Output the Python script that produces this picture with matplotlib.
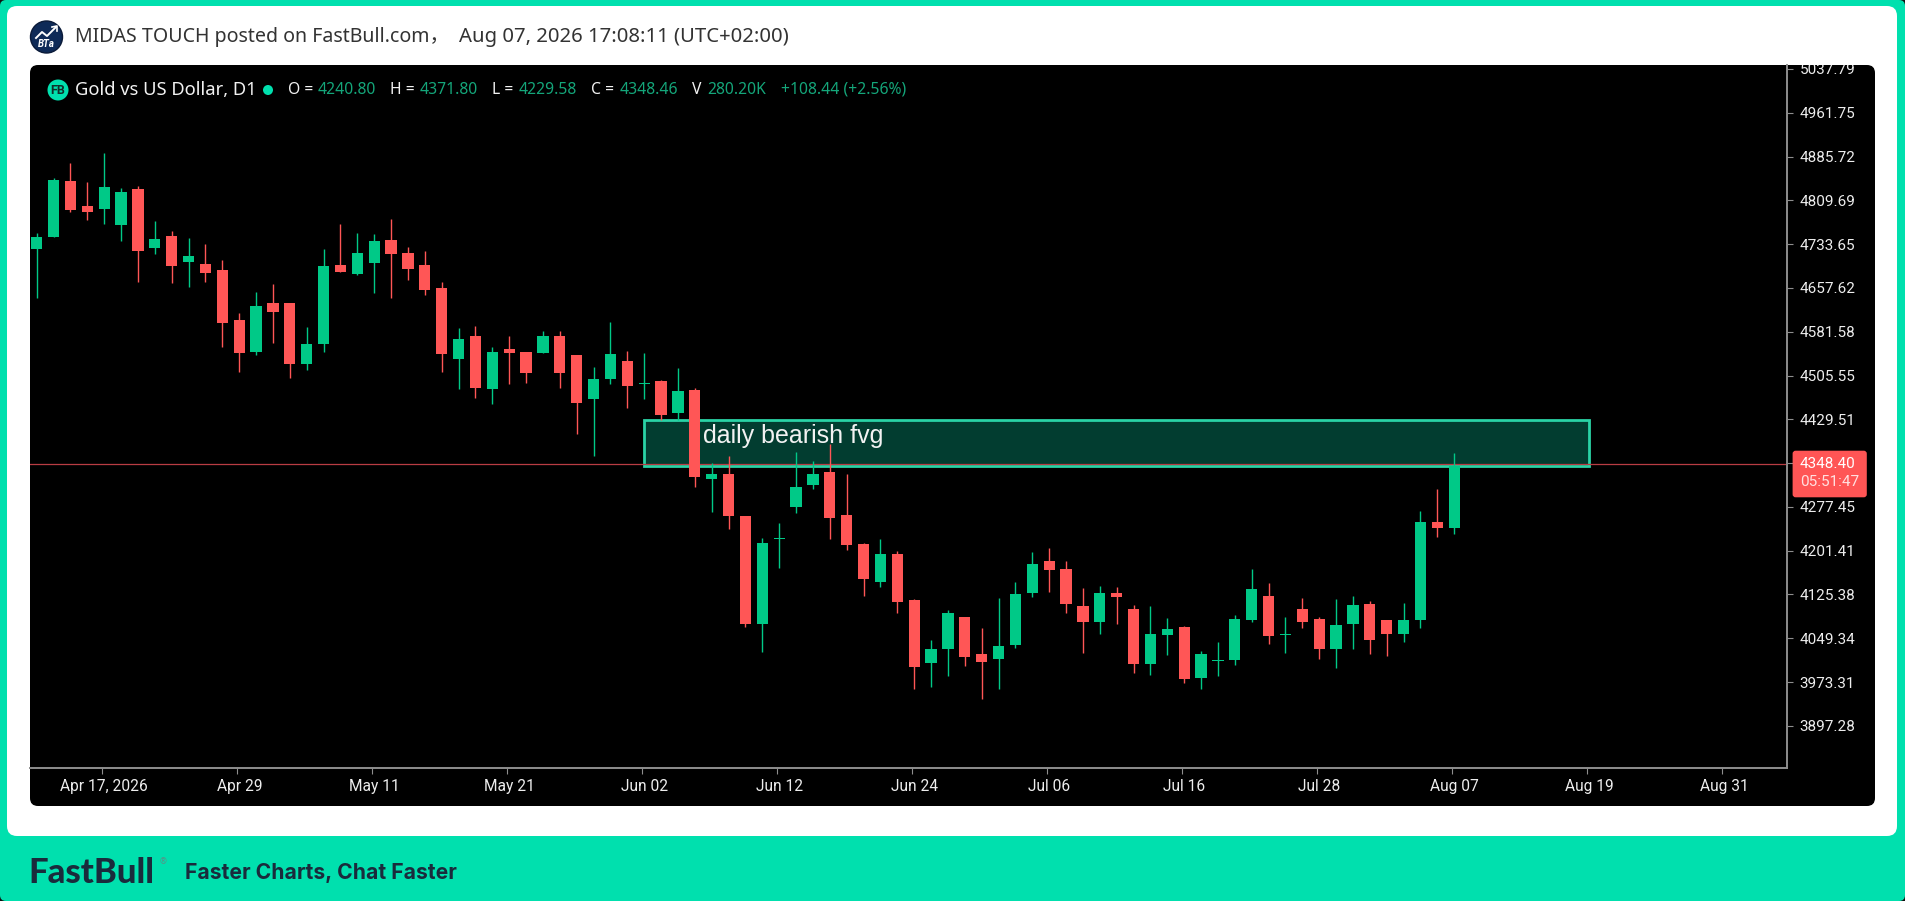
"""FastBull gold chart screenshot, daily candles Apr-Aug 2026."""

import matplotlib

matplotlib.use("Agg")
import matplotlib.pyplot as plt
from matplotlib.patches import Circle, FancyBboxPatch, Rectangle
from matplotlib.transforms import Bbox, ScaledTranslation

# weekday bars, first one is Apr 13 2026, last one Aug 07 2026
opens = [
    4725.2, 4746.6, 4843.3, 4799.3, 4794.7, 4766.9, 4830.0, 4727.5, 4747.2, 4703.2,
    4699.2, 4688.8, 4601.9, 4547.0, 4632.0, 4632.0, 4525.5, 4560.3, 4697.4, 4681.8,
    4701.5, 4740.3, 4718.9, 4696.9, 4658.1, 4534.2, 4573.6, 4482.1, 4552.2, 4547.0,
    4544.6, 4573.6, 4541.2, 4464.8, 4499.5, 4530.2, 4491.4, 4495.4, 4441.0, 4480.4,
    4325.8, 4334.5, 4261.0, 4073.5, 4222.2, 4277.8, 4314.9, 4338.6, 4262.8, 4213.0,
    4147.6, 4195.6, 4115.7, 4005.8, 4030.1, 4085.6, 4022.0, 4013.3, 4037.0, 4127.9,
    4182.9, 4169.6, 4104.7, 4078.1, 4128.5, 4100.1, 4004.6, 4055.0, 4069.4, 3980.9,
    4009.2, 4011.0, 4080.4, 4122.1, 4055.0, 4100.1, 4082.7, 4030.7, 4073.5, 4108.8,
    4081.0, 4056.7, 4081.0, 4251.8, 4240.80,
]
highs = [
    4752.4, 4848.0, 4875.1, 4842.1, 4891.3, 4830.6, 4835.2, 4774.4, 4757.1, 4744.3,
    4733.3, 4705.5, 4613.5, 4650.0, 4664.5, 4632.0, 4589.8, 4724.6, 4768.1, 4752.4,
    4750.7, 4776.7, 4728.7, 4722.3, 4667.3, 4587.5, 4592.1, 4554.5, 4574.2, 4547.0,
    4583.4, 4583.4, 4541.2, 4519.7, 4598.5, 4548.7, 4544.0, 4497.8, 4518.0, 4483.3,
    4354.2, 4365.8, 4262.2, 4222.8, 4248.9, 4372.1, 4357.1, 4386.0, 4334.0, 4215.3,
    4222.2, 4200.2, 4118.0, 4046.3, 4098.4, 4086.8, 4066.5, 4118.6, 4146.4, 4199.1,
    4205.5, 4184.0, 4136.0, 4140.6, 4137.7, 4107.6, 4105.3, 4084.5, 4070.6, 4027.8,
    4042.2, 4090.3, 4169.0, 4144.7, 4085.6, 4118.6, 4085.6, 4118.0, 4123.3, 4114.0,
    4081.0, 4109.9, 4270.9, 4307.9, 4371.80,
]
lows = [
    4639.6, 4746.6, 4788.9, 4775.6, 4768.6, 4738.5, 4668.5, 4716.5, 4666.2, 4659.8,
    4668.5, 4555.6, 4512.2, 4541.2, 4562.6, 4501.8, 4515.1, 4547.0, 4685.9, 4680.6,
    4649.4, 4640.7, 4672.0, 4645.3, 4512.2, 4482.1, 4466.5, 4456.0, 4490.8, 4493.1,
    4544.6, 4484.4, 4403.4, 4366.3, 4490.8, 4449.1, 4464.8, 4428.3, 4428.3, 4312.5,
    4269.1, 4239.0, 4069.4, 4026.0, 4170.7, 4266.2, 4307.9, 4221.7, 4202.6, 4123.3,
    4138.9, 4092.6, 3960.6, 3965.2, 3984.4, 4001.7, 3943.3, 3960.6, 4033.0, 4121.5,
    4129.6, 4092.6, 4023.1, 4056.1, 4074.1, 3988.4, 3984.9, 4019.7, 3971.6, 3960.6,
    3984.4, 4002.3, 4078.1, 4039.9, 4023.1, 4067.1, 4012.7, 3998.2, 4030.1, 4021.4,
    4019.1, 4042.8, 4066.5, 4225.7, 4229.58,
]
closes = [
    4745.5, 4845.0, 4793.0, 4790.1, 4832.3, 4823.6, 4721.2, 4742.6, 4695.1, 4712.5,
    4684.1, 4597.3, 4545.2, 4625.7, 4616.4, 4525.5, 4560.3, 4695.1, 4685.9, 4718.9,
    4738.5, 4717.1, 4690.5, 4654.0, 4542.9, 4568.9, 4484.4, 4547.0, 4545.2, 4510.5,
    4573.6, 4510.5, 4458.4, 4498.9, 4542.9, 4486.8, 4493.1, 4437.0, 4478.1, 4329.9,
    4334.5, 4261.0, 4073.5, 4215.3, 4223.4, 4312.5, 4334.5, 4258.7, 4210.7, 4152.2,
    4195.6, 4112.8, 4000.0, 4030.1, 4093.2, 4017.4, 4008.7, 4035.3, 4126.2, 4178.2,
    4167.3, 4108.8, 4078.1, 4128.5, 4121.5, 4004.6, 4056.7, 4065.4, 3978.0, 4022.0,
    4011.0, 4082.8, 4134.8, 4052.6, 4056.1, 4078.1, 4030.7, 4071.7, 4106.5, 4046.3,
    4056.7, 4081.0, 4251.8, 4241.3, 4348.46,
]

y_ticks = [
    5037.79, 4961.75, 4885.72, 4809.69, 4733.65, 4657.62, 4581.58, 4505.55, 4429.51,
    4353.48, 4277.45, 4201.41, 4125.38, 4049.34, 3973.31, 3897.28,
]
x_tick_bars = [4, 12, 20, 28, 36, 44, 52, 60, 68, 76, 84, 92, 100]
x_tick_labels = [
    "Apr 17, 2026", "Apr 29", "May 11", "May 21", "Jun 02", "Jun 12", "Jun 24",
    "Jul 06", "Jul 16", "Jul 28", "Aug 07", "Aug 19", "Aug 31",
]

# the "daily bearish fvg" box, bars and prices
fvg_bars = (36, 92)
fvg_prices = (4348.4, 4429.0)
price_line = 4351.5

legend_items = [
    (288, "O =", "w"), (318, "4240.80", "g"), (390, "H =", "w"), (420, "4371.80", "g"),
    (492, "L =", "w"), (519, "4229.58", "g"), (591, "C =", "w"), (620, "4348.46", "g"),
    (692, "V", "w"), (707, "280.20K", "g"), (781, "+108.44 (+2.56%)", "g"),
]

TEAL = "#00E0AE"
UP = "#00C987"
DOWN = "#FF5656"
LEGEND_GREEN = "#14A67A"
AXIS = "#8E8E8E"
TEXT = "#EDEDED"
NAVY = "#1A2B3C"
SANS = ["Noto Sans", "Noto Sans CJK SC", "DejaVu Sans"]

plt.rcParams["font.family"] = SANS

fig = plt.figure(figsize=(19.05, 9.01), dpi=100, facecolor="#101010")


def pixel_axes(zorder):
    # overlay in screenshot pixels, y going down
    a = fig.add_axes([0, 0, 1, 1], zorder=zorder)
    a.set_xlim(0, 1905)
    a.set_ylim(901, 0)
    a.axis("off")
    return a


def round_box(a, x0, y0, x1, y1, r, color):
    a.add_patch(FancyBboxPatch((x0, y0), x1 - x0, y1 - y0,
                               boxstyle=f"round,pad=0,rounding_size={r}",
                               fc=color, ec="none"))


bg = pixel_axes(0)
round_box(bg, 0, 0, 1905, 901, 6, TEAL)
round_box(bg, 7, 6, 1897, 836, 10, "white")
round_box(bg, 30, 65, 1875, 806, 8, "black")

# main chart, one bar is 16.875 px and bar 0 sits at x=36.7
ax = fig.add_axes([30 / 1905, 1 - 768.3 / 901, 1757 / 1905, 703.3 / 901], zorder=1)
ax.patch.set_alpha(0)
ax.set_xlim(-0.397, 103.72)
ax.set_ylim(3823.5, 5044.7)

bars = list(range(len(opens)))
colors = [UP if c >= o else DOWN for o, c in zip(opens, closes)]
ax.add_patch(Rectangle((fvg_bars[0], fvg_prices[0]), fvg_bars[1] - fvg_bars[0],
                       fvg_prices[1] - fvg_prices[0],
                       fc="#023D30", ec="#2AD3A6", lw=2.0, zorder=1))
ax.axhline(price_line, color="#B83C43", lw=0.9, zorder=2)
ax.vlines(bars, lows, highs, colors=colors, lw=1.0, zorder=3)
ax.bar(bars, [abs(c - o) for o, c in zip(opens, closes)],
       bottom=[min(o, c) for o, c in zip(opens, closes)],
       width=0.67, color=colors, zorder=4)
ax.text(39.5, 4400, "daily bearish fvg", color="#F2F2F2", fontsize=18.0,
        family="Liberation Sans", va="center", zorder=5)

for side in ("top", "left"):
    ax.spines[side].set_visible(False)
for side in ("right", "bottom"):
    ax.spines[side].set_color(AXIS)
    ax.spines[side].set_linewidth(1.4)

ax.yaxis.tick_right()
ax.set_yticks(y_ticks, [f"{v:.2f}" for v in y_ticks], family="Roboto")
# tick marks sit a little left of the candle centres in the app, labels do not
ax.set_xticks([b - 0.15 for b in x_tick_bars], x_tick_labels, family="Roboto")
ax.tick_params(axis="y", length=4, width=0.8, color=AXIS, labelcolor=TEXT, labelsize=11, pad=5)
ax.tick_params(axis="x", length=4, width=0.8, color=AXIS, labelcolor=TEXT, labelsize=11.2, pad=4)
label_shift = ScaledTranslation(2.6 / 100, 0, fig.dpi_scale_trans)
for lab in ax.get_xticklabels():
    lab.set_transform(lab.get_transform() + label_shift)
# the top price label is cut by the panel edge
for lab in ax.get_yticklabels():
    lab.set_clip_box(Bbox([[0, 0], [1905, 901 - 65]]))
    lab.set_clip_on(True)

fg = pixel_axes(2)

# header
fg.add_patch(Circle((46.5, 37), 16, fc="#0E2A57", ec="#0A1A38", lw=1))
fg.plot([36, 42, 47, 56], [38, 32, 36, 27], color="white", lw=1.4)
fg.plot([52, 57, 57], [27, 26, 31], color="white", lw=1.2)
fg.text(46.5, 44, "BTa", color="white", fontsize=7, style="italic", family="Roboto",
        weight="bold", ha="center", va="center")
fg.text(75, 37, "MIDAS TOUCH posted on FastBull.com，", color="#333333", fontsize=14.1, va="center")
fg.text(459, 37, "Aug 07, 2026 17:08:11 (UTC+02:00)", color="#333333", fontsize=14.6, va="center")

# legend row
fg.add_patch(Circle((58, 90), 10.5, fc=TEAL, ec="none"))
fg.text(58, 90, "FB", color="#10302A", fontsize=9, family="Roboto", weight="bold",
        ha="center", va="center")
fg.text(74.7, 90, "Gold vs US Dollar, D1", color="#F2F2F2", fontsize=13.2, va="center")
fg.add_patch(Circle((268, 90), 5, fc=TEAL, ec="none"))
for x, label, kind in legend_items:
    fg.text(x, 90, label, color="#F2F2F2" if kind == "w" else LEGEND_GREEN,
            fontsize=11.3, va="center")

# last price tag
round_box(fg, 1792.6, 450.7, 1866.8, 497.3, 3, "#FF5555")
fg.text(1800, 464, "4348.40", color="white", fontsize=11, family="Roboto", va="center")
fg.text(1800, 482, "05:51:47", color="#FFE0E0", fontsize=11, family="Roboto", va="center")

# footer
fg.text(28, 873, "FastBull", color=NAVY, fontsize=25, family="Lato", weight="black", va="center")
fg.text(163, 862, "®", color="#5A8F86", fontsize=6, ha="center", va="center")
fg.text(185, 873, "Faster Charts, Chat Faster", color=NAVY, fontsize=15.2, family="Inter",
        weight="bold", va="center")

fig.savefig("out.png", dpi=100, facecolor=fig.get_facecolor())
